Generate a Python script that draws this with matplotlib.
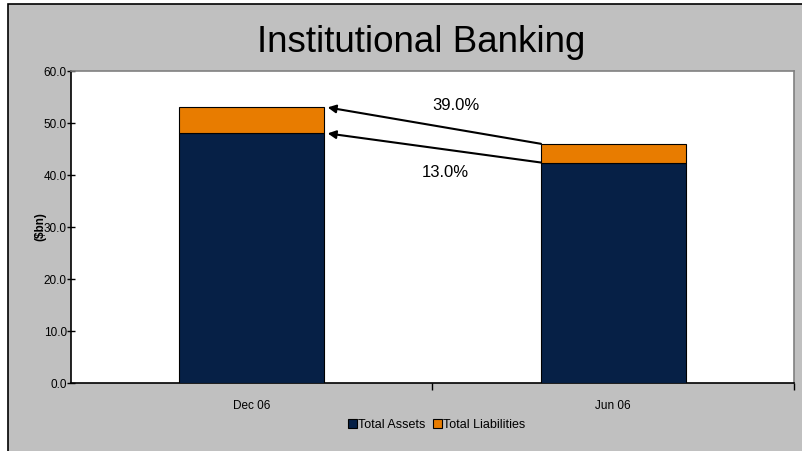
#!/usr/bin/python3
#
# plot.py
#
# Stacked bars of assets and liabilities for Institutional Banking

import matplotlib
matplotlib.use('Agg')
import matplotlib.pyplot as plt
from matplotlib.patches import Rectangle

periods     = ['Dec 06', 'Jun 06']
assets      = [48.0, 42.4]
liabilities = [5.0, 3.6]
growth      = ['39.0%', '13.0%']
y_ticks     = [0, 10, 20, 30, 40, 50, 60]

navy   = '#062046'
orange = '#E87C00'
grey   = '#C0C0C0'

plt.rcParams['font.family'] = ['Liberation Sans', 'DejaVu Sans']

fig = plt.figure(figsize=(8.03, 4.51), dpi=100)
fig.patch.set_facecolor('white')

# Grey chart area with a dark frame at the top and left
fig.add_artist(Rectangle((8/803, -0.1), 1.1, (447/451) + 0.1, transform=fig.transFigure,
                         facecolor=grey, edgecolor='black', linewidth=1.2, zorder=-10))

ax = fig.add_axes([71/803, 1 - 383/451, 723/803, 312/451])
ax.set_facecolor('white')

x = list(range(len(periods)))
totals = [a + l for a, l in zip(assets, liabilities)]

ax.bar(x, assets, width=0.4, color=navy, edgecolor='black', linewidth=0.8,
       label='Total Assets', zorder=3)
ax.bar(x, liabilities, width=0.4, bottom=assets, color=orange, edgecolor='black',
       linewidth=0.8, label='Total Liabilities', zorder=3)

# Arrows from the June bar back to the December bar
ax.annotate('', xy=(0.21, totals[0]), xytext=(0.8, totals[1]),
            arrowprops=dict(arrowstyle='-|>', color='black', lw=1.5,
                            mutation_scale=12, shrinkA=0, shrinkB=0), zorder=4)
ax.annotate('', xy=(0.21, assets[0]), xytext=(0.8, assets[1]),
            arrowprops=dict(arrowstyle='-|>', color='black', lw=1.5,
                            mutation_scale=12, shrinkA=0, shrinkB=0), zorder=4)
ax.text(0.565, 53.3, growth[0], ha='center', va='center', fontsize=12)
ax.text(0.535, 40.4, growth[1], ha='center', va='center', fontsize=12)

ax.set_xlim(-0.5, 1.5)
ax.set_ylim(0, 60)
ax.set_yticks(y_ticks)
ax.set_yticklabels(['%.1f' % t for t in y_ticks], fontsize=8.5)
ax.tick_params(axis='y', direction='inout', length=6, width=1, pad=0)

ax.set_xticks([0.5, 1.5])
ax.set_xticklabels([])
ax.set_xticks(x, minor=True)
ax.set_xticklabels(periods, minor=True, fontsize=8.5)
ax.tick_params(axis='x', which='major', direction='out', length=5, width=1)
ax.tick_params(axis='x', which='minor', length=0, pad=12)

ax.set_ylabel('($bn)', fontsize=8.5, fontweight='bold')
ax.yaxis.set_label_coords(-25/723, 0.5)

for side in ['top', 'right']:
    ax.spines[side].set_color('#808080')
    ax.spines[side].set_linewidth(1.2)
for side in ['left', 'bottom']:
    ax.spines[side].set_color('black')
    ax.spines[side].set_linewidth(1.2)

fig.text(421/803, 1 - 43/451, 'Institutional Banking', ha='center', va='center',
         fontsize=26.5)

leg = fig.legend(loc='center', bbox_to_anchor=(437/803, 1 - 425/451), ncol=2,
                 frameon=False, fontsize=9, handlelength=0.7, handleheight=0.7,
                 handletextpad=0.1, columnspacing=0.6)
for h in leg.legend_handles:
    h.set_edgecolor('black')

fig.savefig('out.png', dpi=100, facecolor=fig.get_facecolor())
